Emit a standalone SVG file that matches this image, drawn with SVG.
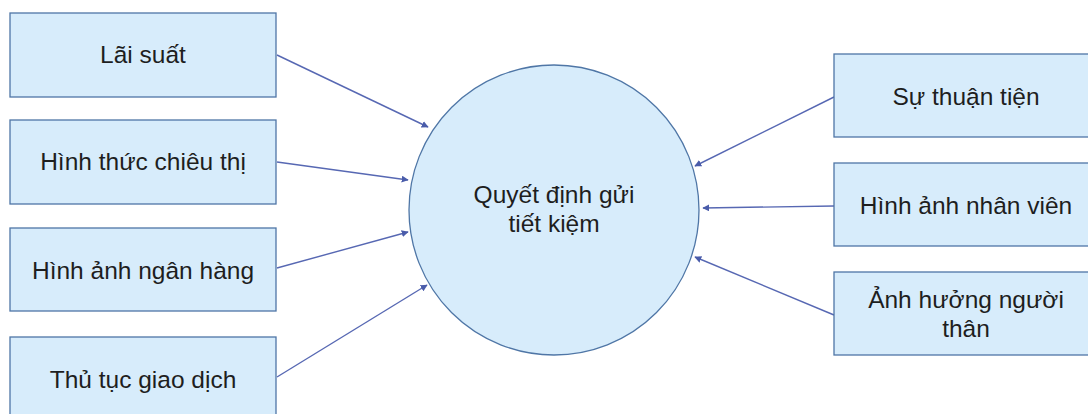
<svg xmlns="http://www.w3.org/2000/svg" width="1088" height="414" viewBox="0 0 1088 414">
  <style>
    .box { fill: #d7ecfb; stroke: #4f76a6; stroke-width: 1.3; }
    .hub { fill: #d7ecfb; stroke: #4f76a6; stroke-width: 1.3; }
    .lbl { font-family: "Liberation Sans", Arial, sans-serif; font-size: 24.5px; fill: #1e1e1e; text-anchor: middle; }
    .edge { stroke: #5768b3; stroke-width: 1.4; fill: none; marker-end: url(#arrow); }
  </style>
  <defs>
    <marker id="arrow" viewBox="0 0 10 10" refX="9" refY="5" markerWidth="7" markerHeight="7" markerUnits="userSpaceOnUse" orient="auto">
      <path d="M0,0 L10,5 L0,10 z" fill="#4a5caa"/>
    </marker>
  </defs>
  <rect width="1088" height="414" fill="#ffffff"/>

  <!-- connectors -->
  <g id="connectors">
    <line class="edge" x1="277" y1="55" x2="428" y2="127"/>
    <line class="edge" x1="277" y1="162" x2="408" y2="180"/>
    <line class="edge" x1="277" y1="268" x2="408" y2="232"/>
    <line class="edge" x1="277" y1="377" x2="427" y2="285"/>
    <line class="edge" x1="834" y1="97" x2="695" y2="166"/>
    <line class="edge" x1="834" y1="206" x2="703" y2="208"/>
    <line class="edge" x1="834" y1="315" x2="695" y2="257"/>
  </g>

  <!-- central node -->
  <g id="decision">
    <circle class="hub" cx="554" cy="210" r="145"/>
    <text class="lbl" x="554" y="203">Quyết định gửi</text>
    <text class="lbl" x="554" y="232">tiết kiệm</text>
  </g>

  <!-- left factors -->
  <g id="lai-suat">
    <rect class="box" x="10" y="13" width="266" height="84"/>
    <text class="lbl" x="143" y="63">Lãi suất</text>
  </g>
  <g id="hinh-thuc-chieu-thi">
    <rect class="box" x="10" y="120" width="266" height="84"/>
    <text class="lbl" x="143" y="170">Hình thức chiêu thị</text>
  </g>
  <g id="hinh-anh-ngan-hang">
    <rect class="box" x="10" y="228" width="266" height="83"/>
    <text class="lbl" x="143" y="279">Hình ảnh ngân hàng</text>
  </g>
  <g id="thu-tuc-giao-dich">
    <rect class="box" x="10" y="337" width="266" height="84"/>
    <text class="lbl" x="143" y="388">Thủ tục giao dịch</text>
  </g>

  <!-- right factors -->
  <g id="su-thuan-tien">
    <rect class="box" x="834" y="54" width="266" height="83"/>
    <text class="lbl" x="966" y="105">Sự thuận tiện</text>
  </g>
  <g id="hinh-anh-nhan-vien">
    <rect class="box" x="834" y="163" width="266" height="83"/>
    <text class="lbl" x="966" y="214">Hình ảnh nhân viên</text>
  </g>
  <g id="anh-huong-nguoi-than">
    <rect class="box" x="834" y="272" width="266" height="83"/>
    <text class="lbl" x="966" y="308">Ảnh hưởng người</text>
    <text class="lbl" x="966" y="337">thân</text>
  </g>
</svg>
